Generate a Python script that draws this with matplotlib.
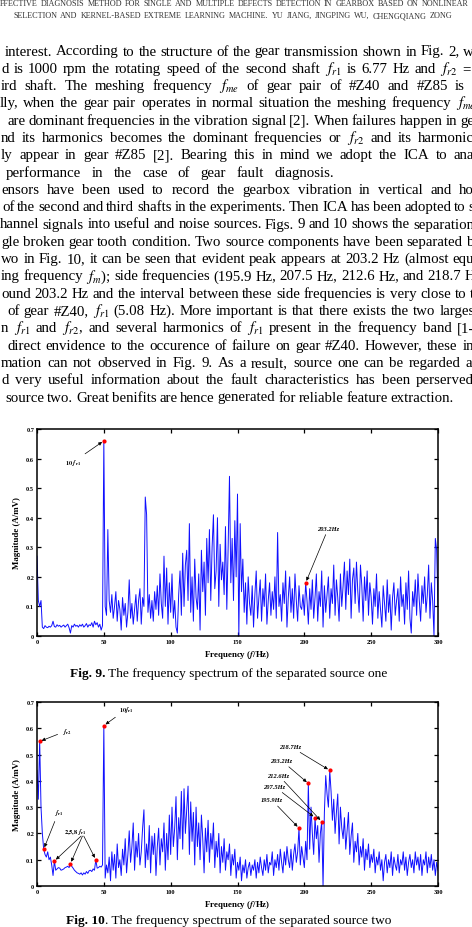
import numpy as np
import matplotlib
matplotlib.use("Agg")
import matplotlib.pyplot as plt

plt.rcParams['font.family'] = ['Liberation Serif', 'DejaVu Serif']
plt.rcParams['mathtext.fontset'] = 'stix'

# ---- data (1 Hz steps, 0..300 Hz) ----
freq = np.arange(0, 301)

source_one = [
    0.27, 0.12, 0.10, 0.12, 0.03, 0.025, 0.035, 0.03, 0.028, 0.033,
    0.03, 0.035, 0.05, 0.032, 0.03, 0.038, 0.033, 0.036, 0.03, 0.034,
    0.037, 0.03, 0.035, 0.04, 0.028, 0.01, 0.035, 0.03, 0.04, 0.033,
    0.036, 0.03, 0.038, 0.033, 0.04, 0.03, 0.035, 0.042, 0.03, 0.038,
    0.035, 0.045, 0.03, 0.05, 0.038, 0.045, 0.03, 0.04, 0.02, 0.035,
    0.66, 0.1, 0.07, 0.36, 0.12, 0.08, 0.14, 0.06, 0.1, 0.15,
    0.05, 0.12, 0.09, 0.02, 0.13, 0.07, 0.11, 0.03, 0.08, 0.19,
    0.06, 0.11, 0.04, 0.09, 0.14, 0.05, 0.12, 0.16, 0.04, 0.13,
    0.1, 0.47, 0.41, 0.08, 0.14, 0.06, 0.12, 0.05, 0.15, 0.09,
    0.17, 0.07, 0.21, 0.11, 0.06, 0.27, 0.1, 0.23, 0.04, 0.18,
    0.08, 0.21, 0.06, 0.12, 0.03, 0.01, 0.14, 0.22, 0.07, 0.28,
    0.1, 0.24, 0.29, 0.12, 0.38, 0.08, 0.2, 0.05, 0.26, 0.13,
    0.09, 0.21, 0.02, 0.29, 0.15, 0.25, 0.07, 0.33, 0.18, 0.36,
    0.12, 0.3, 0.41, 0.16, 0.22, 0.4, 0.1, 0.31, 0.19, 0.25,
    0.14, 0.37, 0.09, 0.3, 0.54, 0.18, 0.33, 0.12, 0.39, 0.2,
    0.48, 0.0, 0.38, 0.15, 0.26, 0.08, 0.18, 0.04, 0.2, 0.11,
    0.07, 0.17, 0.03, 0.14, 0.22, 0.06, 0.13, 0.19, 0.05, 0.16,
    0.1, 0.21, 0.04, 0.12, 0.18, 0.07, 0.15, 0.09, 0.2, 0.06,
    0.35, 0.1, 0.14, 0.05, 0.18, 0.11, 0.22, 0.03, 0.13, 0.2,
    0.08, 0.16, 0.06, 0.21, 0.12, 0.05, 0.17, 0.1, 0.09, 0.14,
    0.07, 0.18, 0.12, 0.04, 0.16, 0.09, 0.19, 0.06, 0.13, 0.21,
    0.05, 0.15, 0.1, 0.22, 0.03, 0.17, 0.08, 0.14, 0.2, 0.06,
    0.16, 0.11, 0.24, 0.07, 0.19, 0.13, 0.05, 0.21, 0.1, 0.17,
    0.25, 0.09, 0.22, 0.14, 0.26, 0.06, 0.19, 0.23, 0.11, 0.25,
    0.15, 0.08, 0.24, 0.17, 0.05, 0.2, 0.12, 0.22, 0.07, 0.18,
    0.13, 0.04, 0.16, 0.1, 0.21, 0.06, 0.15, 0.09, 0.03, 0.17,
    0.11, 0.05, 0.19, 0.08, 0.14, 0.02, 0.13, 0.18, 0.07, 0.12,
    0.16, 0.05, 0.2, 0.1, 0.14, 0.04, 0.18, 0.09, 0.22, 0.06,
    0.01, 0.15, 0.1, 0.19, 0.07, 0.21, 0.12, 0.05, 0.17, 0.11,
    0.2, 0.08, 0.14, 0.24, 0.06, 0.18, 0.12, 0.0, 0.33, 0.29,
    0.1,
]

source_two = [
    0.44, 0.33, 0.55, 0.3, 0.2, 0.14, 0.12, 0.11, 0.13, 0.1,
    0.11, 0.08, 0.04, 0.095, 0.06, 0.065, 0.07, 0.068, 0.06, 0.062,
    0.065, 0.07, 0.072, 0.075, 0.07, 0.085, 0.075, 0.068, 0.06, 0.055,
    0.05, 0.048, 0.045, 0.05, 0.042, 0.05, 0.045, 0.055, 0.048, 0.058,
    0.06, 0.055, 0.065, 0.06, 0.1, 0.068, 0.07, 0.075, 0.072, 0.08,
    0.61, 0.03, 0.08, 0.05, 0.11, 0.02, 0.13, 0.06, 0.12, 0.03,
    0.16, 0.07, 0.1, 0.04, 0.14, 0.08, 0.18, 0.05, 0.12, 0.21,
    0.09, 0.15, 0.24, 0.06, 0.17, 0.11, 0.2, 0.08, 0.13, 0.22,
    0.29, 0.07, 0.16, 0.1, 0.23, 0.05, 0.19, 0.12, 0.2, 0.04,
    0.15, 0.22, 0.08, 0.18, 0.13, 0.24, 0.06, 0.2, 0.1, 0.27,
    0.12, 0.3, 0.15, 0.22, 0.34, 0.1, 0.26, 0.18, 0.36, 0.14,
    0.37, 0.2, 0.29, 0.38, 0.12, 0.32, 0.17, 0.28, 0.08, 0.3,
    0.15, 0.24, 0.1, 0.27, 0.18, 0.05, 0.22, 0.13, 0.25, 0.09,
    0.2, 0.14, 0.24, 0.07, 0.17, 0.11, 0.2, 0.05, 0.15, 0.09,
    0.18, 0.06, 0.13, 0.1, 0.16, 0.04, 0.12, 0.08, 0.14, 0.03,
    0.09, 0.06, 0.11, 0.02, 0.08, 0.05, 0.1, 0.03, 0.07, 0.09,
    0.04, 0.08, 0.06, 0.1, 0.03, 0.09, 0.05, 0.11, 0.07, 0.04,
    0.1, 0.06, 0.12, 0.05, 0.09, 0.08, 0.13, 0.04, 0.1, 0.07,
    0.12, 0.06, 0.14, 0.09, 0.05, 0.13, 0.08, 0.15, 0.1, 0.07,
    0.14, 0.06, 0.12, 0.16, 0.09, 0.13, 0.22, 0.08, 0.15, 0.11,
    0.07, 0.17, 0.1, 0.39, 0.14, 0.3, 0.2, 0.12, 0.26, 0.18,
    0.23, 0.09, 0.2, 0.245, 0.0, 0.28, 0.42, 0.35, 0.3, 0.44,
    0.36, 0.25, 0.33, 0.2, 0.28, 0.35, 0.16, 0.3, 0.22, 0.18,
    0.26, 0.14, 0.21, 0.28, 0.12, 0.19, 0.24, 0.09, 0.17, 0.13,
    0.2, 0.08, 0.15, 0.11, 0.18, 0.06, 0.14, 0.1, 0.16, 0.07,
    0.12, 0.09, 0.14, 0.05, 0.11, 0.08, 0.13, 0.06, 0.1, 0.02,
    0.09, 0.12, 0.05, 0.1, 0.07, 0.13, 0.04, 0.11, 0.08, 0.06,
    0.12, 0.05, 0.1, 0.08, 0.13, 0.06, 0.11, 0.04, 0.09, 0.12,
    0.07, 0.1, 0.05, 0.13, 0.08, 0.11, 0.06, 0.12, 0.04, 0.1,
    0.08, 0.13, 0.05, 0.11, 0.07, 0.12, 0.06, 0.1, 0.04, 0.09,
    0.06,
]

# marked peaks (index into the spectra) and their labels
marks_one = [50, 201]
labels_one = [r'$\mathbf{10}\ \boldsymbol{f}_{\mathbf{r1}}$', '203.2Hz']
label_pos_one = [(27, 0.588), (218, 0.365)]

marks_two = [2, 50, 5, 196, 208, 213, 203, 219]
labels_two = [r'$\boldsymbol{f}_{\mathbf{r2}}$', r'$\mathbf{10}\boldsymbol{f}_{\mathbf{r1}}$',
              r'$\boldsymbol{f}_{\mathbf{r1}}$', '195.9Hz', '207.5Hz', '212.6Hz', '203.2Hz', '218.7Hz']
label_pos_two = [(22, 0.59), (67, 0.673), (16, 0.28), (175.5, 0.328),
                 (177.5, 0.379), (180.5, 0.422), (183, 0.477), (189.5, 0.531)]
harm_marks = [13, 25, 44]
harm_label = r'$\mathbf{2{,}5{,}8}\ \boldsymbol{f}_{\mathbf{r1}}$'

header = [
    "FFECTIVE DIAGNOSIS METHOD FOR SINGLE AND MULTIPLE DEFECTS DETECTION IN GEARBOX BASED ON NONLINEAR F",
    "SELECTION AND KERNEL-BASED EXTREME LEARNING MACHINE. YU JIANG, JINGPING WU, CHENGQIANG ZONG",
]

body = [
    "interest. According to the structure of the gear transmission shown in Fig. 2, w",
    "d is 1000 rpm the rotating speed of the second shaft $f_{r1}$ is 6.77 Hz and $f_{r2}$ =",
    "ird shaft. The meshing frequency $f_{me}$ of gear pair of #Z40 and #Z85 is",
    "lly, when the gear pair operates in normal situation the meshing frequency $f_{me}$",
    "are dominant frequencies in the vibration signal [2]. When failures happen in ge",
    "nd its harmonics becomes the dominant frequencies or $f_{r2}$ and its harmonic",
    "ly appear in gear #Z85 [2]. Bearing this in mind we adopt the ICA to ana",
    "performance in the case of gear fault diagnosis.",
    "ensors have been used to record the gearbox vibration in vertical and ho",
    "of the second and third shafts in the experiments. Then ICA has been adopted to s",
    "hannel signals into useful and noise sources. Figs. 9 and 10 shows the separation",
    "gle broken gear tooth condition. Two source components have been separated b",
    "wo in Fig. 10, it can be seen that evident peak appears at 203.2 Hz (almost equ",
    "ing frequency $f_m$); side frequencies (195.9 Hz, 207.5 Hz, 212.6 Hz, and 218.7 H",
    "ound 203.2 Hz and the interval between these side frequencies is very close to t",
    "of gear #Z40, $f_{r1}$ (5.08 Hz). More important is that there exists the two larges",
    "n $f_{r1}$ and $f_{r2}$, and several harmonics of $f_{r1}$ present in the frequency band [1-",
    "direct envidence to the occurence of failure on gear #Z40. However, these in",
    "mation can not observed in Fig. 9. As a result, source one can be regarded a",
    "d very useful information about the fault characteristics has been perserved",
    "source two. Great benifits are hence generated for reliable feature extraction.",
]
body_x0 = [5, 1, 1, 0, 7, 1, 1, 6, 1, 2, 0, 1, 1, 1, 1, 7, 1, 7, 1, 1, 5]
body_x1 = [474, 471, 465, 476, 474, 474, 474, 334, 474, 474, 474, 474, 474, 475,
           474, 475, 474, 474, 472, 474, 454]

W, H = 472, 928
fig = plt.figure(figsize=(W / 100, H / 100), dpi=100)
fig.patch.set_facecolor('white')
renderer = fig.canvas.get_renderer()


def width_of(s, **kw):
    t = fig.text(0, 0, s, **kw)
    w = t.get_window_extent(renderer).width
    t.remove()
    return w


def put_line(line, x0, y, x1=None, **kw):
    # lay words out on a line, spreading the gaps so it ends at x1 (justified)
    words = line.split(' ')
    widths = [width_of(w, **kw) for w in words]
    gap = width_of('a a', **kw) - width_of('aa', **kw)
    if x1 is not None and len(words) > 1:
        gap = max((x1 - x0 - sum(widths)) / (len(words) - 1), 0.45 * gap)
    x = x0
    for w, wd in zip(words, widths):
        fig.text(x / W, 1 - y / H, w, ha='left', va='baseline', **kw)
        x += wd + gap


def put_caption(bold, rest, cx, y, size):
    wb = width_of(bold, fontsize=size, fontweight='bold')
    wr = width_of(rest, fontsize=size)
    x = cx - (wb + wr) / 2
    fig.text(x / W, 1 - y / H, bold, fontsize=size, fontweight='bold', va='baseline')
    fig.text((x + wb) / W, 1 - y / H, rest, fontsize=size, va='baseline')


# header (small caps look)
put_line(header[0], 0, 6.5, 476, fontsize=5.9, color='#333333')
put_line(header[1], 13, 18.3, 452, fontsize=5.9, color='#333333')

body_size = 10.7
for i, line in enumerate(body):
    put_line(line, body_x0[i], 55.5 + i * 17.3, body_x1[i], fontsize=body_size)


def style_axes(ax):
    ax.set_xlim(0, 300)
    ax.set_ylim(0, 0.7)
    ax.set_xticks(np.arange(0, 301, 50))
    ax.set_yticks(np.arange(0, 0.71, 0.1))
    ax.set_yticklabels(['0'] + ['%.1f' % v for v in np.arange(0.1, 0.71, 0.1)])
    ax.tick_params(direction='in', top=True, right=True, length=3, width=0.9,
                   labelsize=4.6, pad=2)
    for lab in ax.get_xticklabels() + ax.get_yticklabels():
        lab.set_fontweight('bold')
    for sp in ax.spines.values():
        sp.set_linewidth(1.1)
    ax.set_xlabel('Frequency ($\\boldsymbol{f}$/Hz)', fontsize=6.4, fontweight='bold')
    ax.set_ylabel('Magnitude (A/mV)', fontsize=6.4, fontweight='bold')


arrow = dict(arrowstyle='-|>', color='black', lw=0.5, mutation_scale=5,
             shrinkA=1, shrinkB=1.5)
lab_kw = dict(fontsize=4.6, fontweight='bold', fontstyle='italic', ha='center', va='center')

# ---- Fig. 9 ----
ax1 = fig.add_axes([37 / W, 1 - 637 / H, 401 / W, 207 / H])
ax1.plot(freq, source_one, color='#1010ff', lw=0.7)
ax1.plot(freq[marks_one], np.array(source_one)[marks_one], 'o', color='red', ms=2)
for m, lab, pos in zip(marks_one, labels_one, label_pos_one):
    ax1.annotate(lab, xy=(freq[m], source_one[m]), xytext=pos, arrowprops=arrow, **lab_kw)
style_axes(ax1)
ax1.xaxis.set_label_coords(0.5, -0.058)
ax1.yaxis.set_label_coords(-0.039, 0.5)
put_caption('Fig. 9.', ' The frequency spectrum of the separated source one', 228.5, 677, 9.6)

# ---- Fig. 10 ----
ax2 = fig.add_axes([37 / W, 1 - 887 / H, 401 / W, 184 / H])
ax2.plot(freq, source_two, color='#1010ff', lw=0.7)
all_marks = marks_two + harm_marks
ax2.plot(freq[all_marks], np.array(source_two)[all_marks], 'o', color='red', ms=2)
for m, lab, pos in zip(marks_two, labels_two, label_pos_two):
    ax2.annotate(lab, xy=(freq[m], source_two[m]), xytext=pos, arrowprops=arrow, **lab_kw)
ax2.text(28.5, 0.207, harm_label, **lab_kw)
for m, sx in zip(harm_marks, [33, 34, 35]):
    ax2.annotate('', xy=(freq[m], source_two[m]), xytext=(sx, 0.19),
                 arrowprops=dict(arrow, shrinkA=0))
style_axes(ax2)
ax2.xaxis.set_label_coords(0.5, -0.065)
ax2.yaxis.set_label_coords(-0.039, 0.5)
put_caption('Fig. 10', '. The frequency spectrum of the separated source two', 229, 924, 9.6)

fig.savefig('out.png', dpi=100, facecolor='white')
